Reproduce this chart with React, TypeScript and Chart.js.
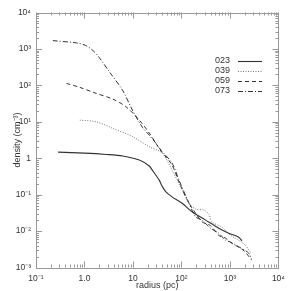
import React, { useEffect, useRef } from "react";
import { Chart, registerables } from "chart.js";

Chart.register(...registerables);

const seriesNames = ["023", "039", "059", "073"];

const radius023 = [0.286, 1.0, 2.81, 6.15, 13.5, 21.7, 25, 34.7, 40, 47.7, 64, 103, 165, 315, 589, 944, 1514, 1770];
const density023 = [1.47, 1.38, 1.27, 1.15, 0.89, 0.61, 0.47, 0.25, 0.17, 0.119, 0.087, 0.058, 0.034, 0.02, 0.012, 0.0087, 0.0068, 0.0054];

const radius039 = [0.8, 1.75, 3.84, 9.87, 21.7, 40, 64, 103, 143, 196, 290, 368, 424, 679, 1023, 1514, 2080, 2630];
const density039 = [11.1, 10, 6.6, 3.9, 2.06, 1.38, 0.47, 0.133, 0.058, 0.04, 0.0375, 0.029, 0.0179, 0.0128, 0.0077, 0.0056, 0.0041, 0.0026];

const radius059 = [0.425, 0.8, 1.75, 3.84, 7.2, 13.5, 21.7, 37.7, 64, 89, 143, 196, 264, 398, 589, 812, 1023, 1514, 1990, 2800];
const density059 = [113, 88, 60, 42, 25.8, 11.1, 4.9, 1.58, 0.65, 0.22, 0.058, 0.031, 0.018, 0.014, 0.0076, 0.0064, 0.0049, 0.0036, 0.0028, 0.0016];

const radius073 = [0.223, 0.69, 1.05, 1.5, 2.05, 3.28, 6.07, 9.73, 15.6, 21.7, 29.7, 37.7, 64, 89, 143, 196, 264, 398, 589, 812, 1023, 1514, 2427, 2800];
const density073 = [1690, 1460, 1250, 900, 562, 232, 74, 21, 7.1, 4.3, 2.57, 1.67, 0.73, 0.25, 0.058, 0.0245, 0.02, 0.012, 0.0087, 0.0056, 0.005, 0.0037, 0.0025, 0.0017];

const xTickValues = [0.1, 1, 10, 100, 1000, 10000];
const xTickLabels = ["10\u207B\u00B9", "1.0", "10", "10\u00B2", "10\u00B3", "10\u2074"];
const yTickValues = [0.001, 0.01, 0.1, 1, 10, 100, 1000, 10000];
const yTickLabels = ["10\u207B\u00B3", "10\u207B\u00B2", "10\u207B\u00B9", "1", "10\u00B9", "10\u00B2", "10\u00B3", "10\u2074"];

const FONT = "'Liberation Sans', Arial, sans-serif";

const styles = [
  { color: "#333", dash: [] as number[], width: 1.1 },
  { color: "#777", dash: [1, 1.5], width: 1 },
  { color: "#333", dash: [4, 3], width: 1 },
  { color: "#333", dash: [5, 2, 1, 2], width: 1 },
];

function pts(r: number[], d: number[]) {
  return r.map((x, i) => ({ x, y: d[i] }));
}

const frameTicks = {
  id: "frameTicks",
  afterDraw(chart: any) {
    const ctx = chart.ctx;
    const { left, right, top, bottom } = chart.chartArea;
    const xs = chart.scales.x;
    const ys = chart.scales.y;
    ctx.save();
    ctx.strokeStyle = "#999";
    ctx.lineWidth = 1;
    ctx.beginPath();
    for (let e = -1; e <= 4; e++) {
      for (let k = 1; k <= 9; k++) {
        const v = k * Math.pow(10, e);
        if (v < 0.1 || v > 10000) continue;
        const px = Math.round(xs.getPixelForValue(v)) + 0.5;
        const len = k === 1 ? 6 : 3;
        ctx.moveTo(px, bottom);
        ctx.lineTo(px, bottom - len);
        ctx.moveTo(px, top);
        ctx.lineTo(px, top + len);
      }
    }
    for (let e = -3; e <= 4; e++) {
      for (let k = 1; k <= 9; k++) {
        const v = k * Math.pow(10, e);
        if (v < 0.001 || v > 10000) continue;
        const py = Math.round(ys.getPixelForValue(v)) + 0.5;
        const len = k === 1 ? 6 : 3;
        ctx.moveTo(left, py);
        ctx.lineTo(left + len, py);
        ctx.moveTo(right, py);
        ctx.lineTo(right - len, py);
      }
    }
    ctx.stroke();
    ctx.strokeRect(Math.round(left) + 0.5, Math.round(top) + 0.5, Math.round(right - left), Math.round(bottom - top));

    // legend
    ctx.font = "9px " + FONT;
    ctx.textBaseline = "middle";
    ctx.textAlign = "left";
    chart.data.datasets.forEach((ds: any, i: number) => {
      const y = 61 + 10 * i;
      ctx.fillStyle = "#333";
      ctx.fillText(ds.label, 215, y);
      ctx.beginPath();
      ctx.strokeStyle = ds.borderColor;
      ctx.lineWidth = ds.borderWidth;
      ctx.setLineDash(ds.borderDash || []);
      ctx.moveTo(238, y + 0.5);
      ctx.lineTo(262, y + 0.5);
      ctx.stroke();
      ctx.setLineDash([]);
    });
    ctx.restore();
  },
};

export default function App() {
  const ref = useRef<HTMLCanvasElement>(null);
  useEffect(() => {
    if (!ref.current) return;
    const allR = [radius023, radius039, radius059, radius073];
    const allD = [density023, density039, density059, density073];
    const chart = new Chart(ref.current, {
      type: "line",
      data: {
        datasets: seriesNames.map((name, i) => ({
          label: name,
          data: pts(allR[i], allD[i]),
          borderColor: styles[i].color,
          borderWidth: styles[i].width,
          borderDash: styles[i].dash,
          pointRadius: 0,
          fill: false,
          tension: 0.3,
        })),
      },
      options: {
        animation: false,
        responsive: false,
        maintainAspectRatio: false,
        layout: { padding: { top: 12.5, right: 11, left: 0, bottom: 0 } },
        plugins: { legend: { display: false }, tooltip: { enabled: false } },
        scales: {
          x: {
            type: "logarithmic",
            min: 0.1,
            max: 10000,
            border: { display: false },
            grid: { display: false, drawTicks: false },
            afterBuildTicks: (s: any) => {
              s.ticks = xTickValues.map((v) => ({ value: v }));
            },
            afterFit: (s: any) => {
              s.height = 23.5;
            },
            ticks: {
              autoSkip: false,
              maxRotation: 0,
              padding: 6,
              color: "#333",
              font: { family: FONT, size: 8.5 },
              callback: (v: any) => {
                const idx = xTickValues.findIndex((t) => Math.abs(Math.log10(t) - Math.log10(Number(v))) < 1e-6);
                return idx >= 0 ? xTickLabels[idx] : "";
              },
            },
            title: {
              display: true,
              text: "radius (pc)",
              color: "#333",
              font: { family: FONT, size: 9 },
              padding: { top: 0, bottom: 0 },
            },
          },
          y: {
            type: "logarithmic",
            min: 0.001,
            max: 10000,
            border: { display: false },
            grid: { display: false, drawTicks: false },
            afterBuildTicks: (s: any) => {
              s.ticks = yTickValues.map((v) => ({ value: v }));
            },
            afterFit: (s: any) => {
              s.width = 36;
            },
            ticks: {
              autoSkip: false,
              padding: 5,
              color: "#333",
              font: { family: FONT, size: 8.5 },
              callback: (v: any) => {
                const idx = yTickValues.findIndex((t) => Math.abs(Math.log10(t) - Math.log10(Number(v))) < 1e-6);
                return idx >= 0 ? yTickLabels[idx] : "";
              },
            },
            title: {
              display: true,
              text: "density (cm\u207B\u00B3)",
              color: "#333",
              font: { family: FONT, size: 9 },
              padding: { top: 12, bottom: 0 },
            },
          },
        },
      },
      plugins: [frameTicks],
    });
    return () => chart.destroy();
  }, []);
  return (
    <div style={{ position: "fixed", left: 0, top: 0, width: 291, height: 291, background: "#fff" }}>
      <canvas ref={ref} width={291} height={291} style={{ width: 291, height: 291, display: "block" }} />
    </div>
  );
}
